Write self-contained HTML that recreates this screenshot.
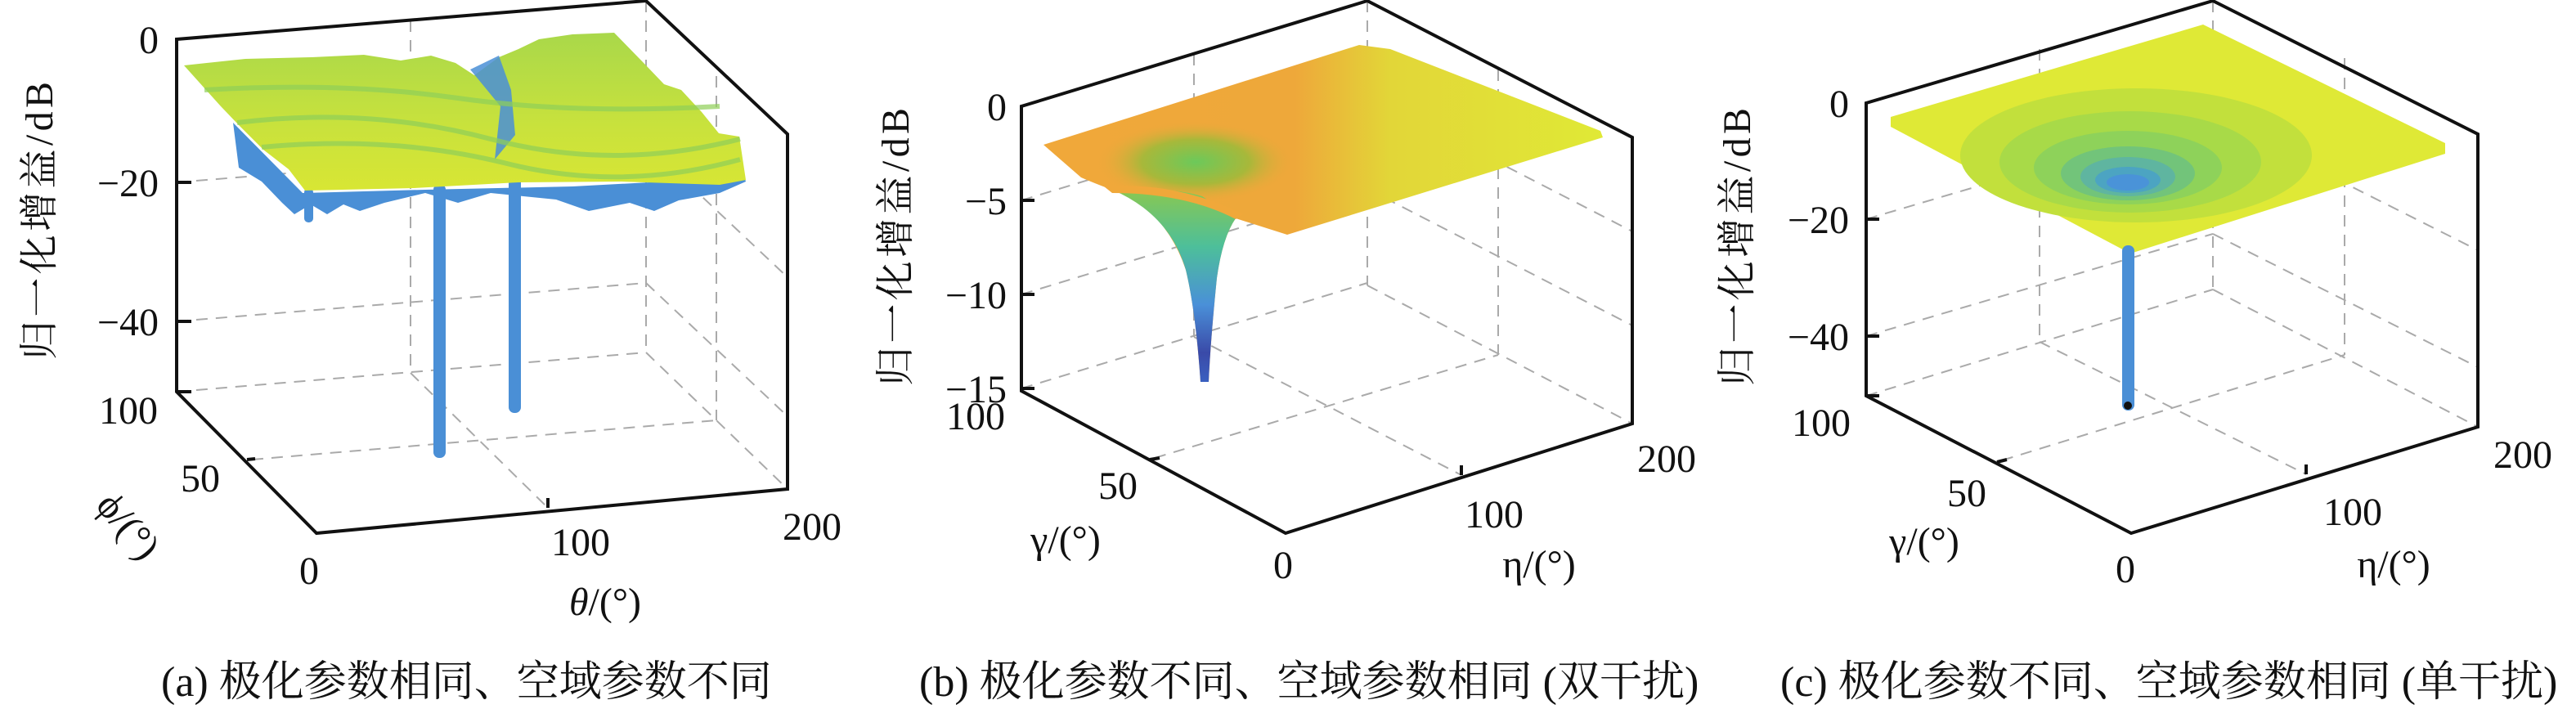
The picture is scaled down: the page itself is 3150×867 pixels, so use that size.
<!DOCTYPE html>
<html><head><meta charset="utf-8"><style>
html,body{margin:0;padding:0;background:#fff}
svg{display:block}
svg text{font-family:"Liberation Serif","Noto Serif CJK SC",serif;fill:#111}
.t{font-size:48px}
.cap{font-size:52px}
</style></head><body>
<svg width="3150" height="867" viewBox="0 0 3150 867" xmlns="http://www.w3.org/2000/svg" font-family="Liberation Serif, Noto Serif CJK SC, serif">
<defs>
<linearGradient id="ga" x1="0" y1="0" x2="0" y2="1">
<stop offset="0" stop-color="#a9d84a"/><stop offset="0.6" stop-color="#c9e23c"/><stop offset="1" stop-color="#d8e634"/>
</linearGradient>
<linearGradient id="gb" x1="0" y1="0" x2="1" y2="0">
<stop offset="0" stop-color="#f0a83a"/><stop offset="0.45" stop-color="#eea83a"/><stop offset="0.62" stop-color="#e2d638"/><stop offset="1" stop-color="#e0e936"/>
</linearGradient>
<radialGradient id="gbc" cx="0.5" cy="0.5" r="0.5">
<stop offset="0" stop-color="#6cc95a"/><stop offset="0.55" stop-color="#a8b83a"/><stop offset="1" stop-color="#eea83a" stop-opacity="0"/>
</radialGradient>
<linearGradient id="gbf" x1="0" y1="0" x2="0" y2="1">
<stop offset="0" stop-color="#8ac850"/><stop offset="0.3" stop-color="#4dbf9a"/><stop offset="0.6" stop-color="#4a90d8"/><stop offset="0.85" stop-color="#3a4aa8"/><stop offset="1" stop-color="#3a60c0"/>
</linearGradient>
</defs>

<g stroke="#aaa" stroke-width="2" stroke-dasharray="14,10" fill="none">
<line x1="216" y1="223" x2="790" y2="176"/><line x1="216" y1="393" x2="790" y2="346"/>
<line x1="790" y1="176" x2="963" y2="339"/><line x1="790" y1="346" x2="963" y2="509"/>
<line x1="216" y1="479" x2="790" y2="431"/><line x1="790" y1="431" x2="963" y2="598"/>
<line x1="790" y1="1" x2="790" y2="431"/>
<line x1="502" y1="25" x2="502" y2="456"/><line x1="876" y1="93" x2="876" y2="514"/>
<line x1="308" y1="562" x2="876" y2="514"/><line x1="502" y1="456" x2="670" y2="621"/>
<line x1="1249" y1="245" x2="1672" y2="116"/><line x1="1249" y1="360" x2="1672" y2="231"/><line x1="1249" y1="475" x2="1672" y2="346"/>
<line x1="1672" y1="116" x2="1996" y2="283"/><line x1="1672" y1="231" x2="1996" y2="398"/>
<line x1="1672" y1="349" x2="1996" y2="518"/><line x1="1672" y1="1" x2="1672" y2="349"/>
<line x1="1460" y1="66" x2="1460" y2="412"/><line x1="1832" y1="85" x2="1832" y2="434"/>
<line x1="1412" y1="560" x2="1832" y2="434"/><line x1="1460" y1="412" x2="1787" y2="581"/>
<line x1="2282" y1="268" x2="2706" y2="143"/><line x1="2282" y1="411" x2="2706" y2="286"/><line x1="2282" y1="484" x2="2706" y2="354"/>
<line x1="2706" y1="143" x2="3030" y2="306"/><line x1="2706" y1="286" x2="3030" y2="449"/>
<line x1="2706" y1="354" x2="3030" y2="522"/><line x1="2706" y1="1" x2="2706" y2="354"/>
<line x1="2494" y1="60" x2="2494" y2="418"/><line x1="2867" y1="71" x2="2867" y2="434"/>
<line x1="2448" y1="563" x2="2867" y2="434"/><line x1="2494" y1="418" x2="2820" y2="580"/>
</g>

<!-- panel a surface -->
<path d="M285,150 L292,205 L320,222 L345,248 L360,262 L380,250 L400,262 L420,250 L440,258 L470,248 L520,236 L560,248 L600,236 L680,244 L720,258 L770,248 L800,258 L830,245 L880,236 L912,222 L905,200 L850,220 L700,228 L520,232 L370,236 Z" fill="#4a8fd6"/>
<rect x="530" y="225" width="15" height="335" rx="7" fill="#4a8fd6"/>
<rect x="622" y="215" width="15" height="290" rx="7" fill="#4a8fd6"/>
<rect x="372" y="230" width="11" height="42" rx="5" fill="#4a8fd6"/>
<path d="M225,80 L300,72 L380,70 L445,67 L490,74 L527,68 L557,77 L580,92 L610,70 L634,60 L659,48 L700,42 L751,40 L790,80 L812,103 L833,110 L858,137 L879,163 L904,167 L912,220 L880,226 L760,222 L634,223 L506,230 L373,233 L353,207 L322,183 L292,153 L270,130 Z" fill="url(#ga)"/>
<path d="M575,85 L610,68 L625,110 L630,165 L605,195 L612,130 Z" fill="#4a8fd6" opacity="0.85"/>
<g fill="none" stroke="#8fcf58" stroke-width="6" opacity="0.7">
<path d="M290,150 Q450,130 600,170 T905,170"/><path d="M320,180 Q480,165 620,200 T905,195"/><path d="M250,110 Q420,100 560,120 T880,130"/>
</g>

<!-- panel b surface -->
<path d="M1276,177 L1662,55 L1700,60 L1957,160 L1960,168 L1574,287 L1511,267 Q1495,290 1488,340 Q1480,420 1478,467 L1468,467 Q1462,380 1450,330 Q1430,270 1381,240 Q1340,225 1322,217 Z" fill="url(#gb)"/>
<ellipse cx="1462" cy="198" rx="120" ry="50" fill="url(#gbc)"/>
<path d="M1360,232 Q1430,228 1470,240 L1511,267 Q1495,290 1488,340 Q1480,420 1478,467 L1468,467 Q1462,380 1450,330 Q1430,262 1360,232 Z" fill="url(#gbf)"/>
<path d="M1350,228 Q1440,222 1520,262 L1511,268 Q1450,236 1360,236 Z" fill="#f0a83a"/>

<!-- panel c surface -->
<path d="M2312,143 L2694,30 L2990,175 L2990,188 L2605,310 L2312,155 Z" fill="#dfe936"/>
<ellipse cx="2612" cy="190" rx="215" ry="82" fill="#c2e03c"/>
<ellipse cx="2605" cy="198" rx="160" ry="62" fill="#a8da48"/>
<ellipse cx="2602" cy="205" rx="115" ry="45" fill="#8ed25a"/>
<ellipse cx="2602" cy="212" rx="82" ry="33" fill="#72c47a"/>
<ellipse cx="2602" cy="216" rx="58" ry="24" fill="#5fb5a0"/>
<ellipse cx="2602" cy="220" rx="40" ry="16" fill="#4ca4c2"/>
<ellipse cx="2602" cy="223" rx="26" ry="10" fill="#4a93d8"/>
<rect x="2595" y="300" width="15" height="202" rx="7" fill="#4a8fd6"/>
<circle cx="2602" cy="496" r="5" fill="#111"/>

<!-- axes -->
<g stroke="#111" stroke-width="4" fill="none" stroke-linejoin="miter">
<path d="M216,479 L216,48 L790,1 L963,164 L963,598 L387,652 Z"/>
<path d="M216,223 h18 M216,393 h18 M216,479 h18 M302,562 l10,-1 M670,621 l0,-12"/>
<path d="M1249,478 L1249,130 L1672,1 L1996,168 L1996,518 L1572,652 Z"/>
<path d="M1249,245 h16 M1249,360 h16 M1249,475 h16 M1406,562 l12,-2 M1787,581 l0,-12"/>
<path d="M2282,484 L2282,126 L2706,1 L3030,164 L3030,522 L2606,652 Z"/>
<path d="M2282,268 h16 M2282,411 h16 M2282,484 h16 M2442,565 l12,-3 M2820,580 l0,-12"/>
</g>

<g font-family="Liberation Serif, Noto Serif CJK SC, serif" fill="#111">
<g class="t" font-size="48" text-anchor="end">
<text x="194" y="65">0</text><text x="194" y="240">−20</text><text x="194" y="410">−40</text>
</g>
<g class="t" font-size="48" text-anchor="middle">
<text x="157" y="518">100</text><text x="245" y="601">50</text><text x="378" y="714">0</text>
<text x="710" y="679">100</text><text x="993" y="660">200</text>
<text x="740" y="752" font-style="italic">θ<tspan font-style="normal">/(°)</tspan></text>
<text transform="translate(157,643) rotate(50)" y="16">ϕ/(°)</text>
</g>
<text transform="translate(47,270) rotate(-90)" text-anchor="middle" y="17" font-size="48" textLength="340">归一化增益/dB</text>

<g class="t" font-size="48" text-anchor="end">
<text x="1231" y="147">0</text><text x="1231" y="262">−5</text><text x="1231" y="377">−10</text><text x="1231" y="492">−15</text>
</g>
<g class="t" font-size="48" text-anchor="middle">
<text x="1193" y="525">100</text><text x="1367" y="610">50</text><text x="1569" y="707">0</text>
<text x="1827" y="645">100</text><text x="2038" y="577">200</text>
<text x="1303" y="676">γ/(°)</text><text x="1882" y="706">η/(°)</text>
</g>
<text transform="translate(1094,302) rotate(-90)" text-anchor="middle" y="17" font-size="48" textLength="340">归一化增益/dB</text>

<g class="t" font-size="48" text-anchor="end">
<text x="2261" y="143">0</text><text x="2261" y="285">−20</text><text x="2261" y="428">−40</text>
</g>
<g class="t" font-size="48" text-anchor="middle">
<text x="2227" y="533">100</text><text x="2405" y="619">50</text><text x="2599" y="712">0</text>
<text x="2877" y="642">100</text><text x="3085" y="572">200</text>
<text x="2353" y="678">γ/(°)</text><text x="2927" y="706">η/(°)</text>
</g>
<text transform="translate(2123,302) rotate(-90)" text-anchor="middle" y="17" font-size="48" textLength="340">归一化增益/dB</text>

<text class="cap" font-size="52" x="197" y="851">(a) 极化参数相同、空域参数不同</text>
<text class="cap" font-size="52" x="1124" y="851">(b) 极化参数不同、空域参数相同 (双干扰)</text>
<text class="cap" font-size="52" x="2177" y="851">(c) 极化参数不同、空域参数相同 (单干扰)</text>
</g>
</svg>
</body></html>
